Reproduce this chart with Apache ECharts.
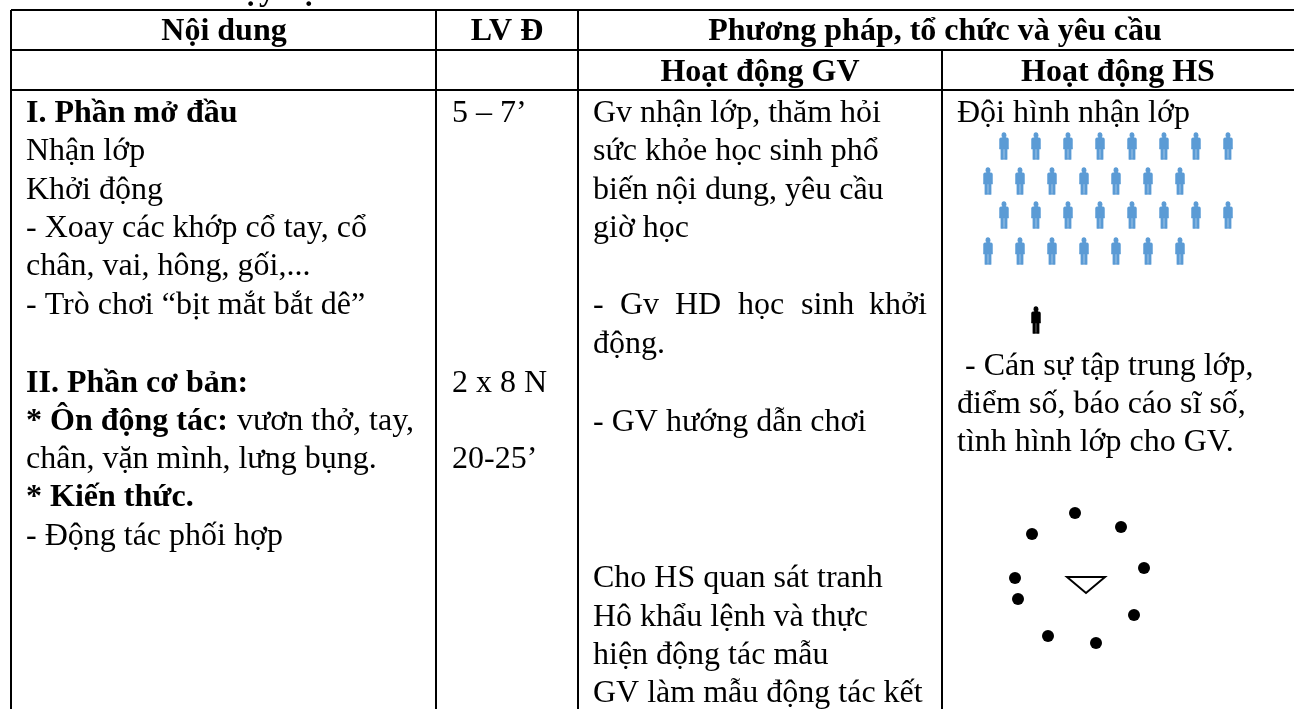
<!DOCTYPE html>
<html><head><meta charset="utf-8">
<script src="https://cdn.jsdelivr.net/npm/echarts@6/dist/echarts.min.js"></script>
<style>html,body{margin:0;padding:0;background:#fff}#c{width:1294px;height:709px}</style></head>
<body><div id="c"></div>
<script>
// table rules: [x1,y1,x2,y2]
const rules = [
  [11,10,1294,10],[11,50,1294,50],[11,90,1294,90],
  [11,10,11,709],[436,10,436,709],[578,10,578,709],[942,50,942,709]
];
// text rows: [x, baseline, text, weight, align]
const headerTexts = [
  [224,40,'Nội dung','bold','center'],
  [507,40,'LV Đ','bold','center'],
  [935,40,'Phương pháp, tổ chức và yêu cầu','bold','center'],
  [760,81,'Hoạt động GV','bold','center'],
  [1118,81,'Hoạt động HS','bold','center'],
  [331,0,'Tiến trình dạy học','bold','right']
];
const contentTexts = [
  [26,122,'I. Phần mở đầu','bold'],
  [26,160,'Nhận lớp'],
  [26,199,'Khởi động'],
  [26,237,'- Xoay các khớp cổ tay, cổ'],
  [26,275,'chân, vai, hông, gối,...'],
  [26,314,'- Trò chơi “bịt mắt bắt dê”'],
  [26,392,'II. Phần cơ bản:','bold'],
  [26,430,'* Ôn động tác:','bold'],
  [237,430,'vươn thở, tay,'],
  [26,468,'chân, vặn mình, lưng bụng.'],
  [26,506,'* Kiến thức.','bold'],
  [26,545,'- Động tác phối hợp']
];
const loadTexts = [
  [452,122,'5 – 7’'],
  [452,392,'2 x 8 N'],
  [452,468,'20-25’']
];
const teacherTexts = [
  [593,122,'Gv nhận lớp, thăm hỏi'],
  [593,160,'sức khỏe học sinh phổ'],
  [593,199,'biến nội dung, yêu cầu'],
  [593,237,'giờ học'],
  [593,314,'-'],[620,314,'Gv'],[675,314,'HD'],[738,314,'học'],[801,314,'sinh'],[869,314,'khởi'],
  [593,353,'động.'],
  [593,431,'- GV hướng dẫn chơi'],
  [593,587,'Cho HS quan sát tranh'],
  [593,626,'Hô khẩu lệnh và thực'],
  [593,664,'hiện động tác mẫu'],
  [593,702,'GV làm mẫu động tác kết']
];
const studentTexts = [
  [957,122,'Đội hình nhận lớp'],
  [957,375,' - Cán sự tập trung lớp,'],
  [957,413,'điểm số, báo cáo sĩ số,'],
  [957,451,'tình hình lớp cho GV.']
];
const bluePeople = [
  [1004,146],[1036,146],[1068,146],[1100,146],[1132,146],[1164,146],[1196,146],[1228,146],
  [988,181],[1020,181],[1052,181],[1084,181],[1116,181],[1148,181],[1180,181],
  [1004,215],[1036,215],[1068,215],[1100,215],[1132,215],[1164,215],[1196,215],[1228,215],
  [988,251],[1020,251],[1052,251],[1084,251],[1116,251],[1148,251],[1180,251]
];
const leaderPeople = [[1036,320]];
const circleDots = [[1075,513],[1032,534],[1121,527],[1144,568],[1015,578],[1018,599],[1134,615],[1048,636],[1096,643]];
const teacherMark = [[1067,577],[1105,577],[1086,593]];

const allTexts = headerTexts.concat(contentTexts, loadTexts, teacherTexts, studentTexts);
const FONT = '"Liberation Serif","Times New Roman",serif';
const FS = 32;
const BASE = 24;
const personPath = 'path://M4.5,0 A2.2,2.2 0 1 1 4.5,4.4 A2.2,2.2 0 1 1 4.5,0 Z M1.5,5.2 L7.5,5.2 Q9,5.2 9,6.8 L9,15.5 L7.6,15.5 L7.6,26 L4.9,26 L4.9,16 L4.1,16 L4.1,26 L1.4,26 L1.4,15.5 L0,15.5 L0,6.8 Q0,5.2 1.5,5.2 Z';

const chart = echarts.init(document.getElementById('c'), null, {renderer:'canvas'});
chart.setOption({
  animation:false,
  backgroundColor:'#fff',
  grid:{left:0,right:0,top:0,bottom:0},
  xAxis:{type:'value',min:0,max:1294,show:false},
  yAxis:{type:'value',min:0,max:709,inverse:true,show:false},
  series:[
    {type:'custom',clip:false,silent:true,data:rules,encode:{x:[0,2],y:[1,3]},
     renderItem(p,api){
       const a=api.coord([api.value(0),api.value(1)]),b=api.coord([api.value(2),api.value(3)]);
       return {type:'line',shape:{x1:a[0],y1:a[1],x2:b[0],y2:b[1]},style:{stroke:'#000',lineWidth:2}};
     }},
    {type:'custom',clip:false,silent:true,data:[teacherMark.flat()],
     renderItem(p,api){
       const pts=[0,2,4].map(i=>api.coord([api.value(i),api.value(i+1)]));
       return {type:'polygon',shape:{points:pts},style:{fill:'#fff',stroke:'#000',lineWidth:2}};
     }},
    {type:'scatter',data:bluePeople,symbol:personPath,symbolSize:[9,26],itemStyle:{color:'#5b9bd5',borderColor:'#5b9bd5',borderWidth:0.8,opacity:1},silent:true},
    {type:'scatter',data:leaderPeople,symbol:personPath,symbolSize:[9,26],itemStyle:{color:'#000',borderColor:'#000',borderWidth:0.8,opacity:1},silent:true},
    {type:'scatter',data:circleDots,symbol:'circle',symbolSize:12,itemStyle:{color:'#000',opacity:1},silent:true},
    {type:'custom',clip:false,silent:true,
     data:allTexts.map((t,i)=>[t[0],t[1],i]),
     renderItem(p,api){
       const t=allTexts[api.value(2)], c=api.coord([t[0],t[1]]);
       return {type:'text',x:c[0],y:c[1]-BASE,style:{text:t[2],fill:'#000',align:t[4]||'left',verticalAlign:'top',
         font:(t[3]==='bold'?'bold ':'')+FS+'px '+FONT}};
     }}
  ]
});
</script></body></html>
